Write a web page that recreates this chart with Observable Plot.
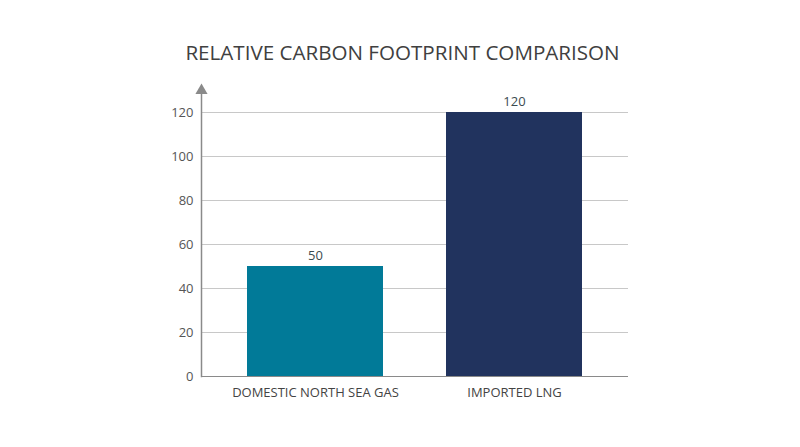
<!DOCTYPE html>
<html>
<head>
<meta charset="utf-8">
<script src="https://cdn.jsdelivr.net/npm/d3@7"></script>
<script src="https://cdn.jsdelivr.net/npm/@observablehq/plot@0.6"></script>
<style>
  html, body { margin: 0; padding: 0; background: #fff; }
  body { width: 800px; height: 447px; overflow: hidden; font-family: "Open Sans", sans-serif; }
  #title { margin: 0; padding-top: 38px; height: 28px; line-height: 28px; text-align: center;
    font-size: 20.6px; font-weight: 400; color: #404040; padding-left: 5px; }
</style>
</head>
<body>
<div id="title">RELATIVE CARBON FOOTPRINT COMPARISON</div>
<div id="chart"></div>
<script>
const categories = ["DOMESTIC NORTH SEA GAS", "IMPORTED LNG"];
const values = [50, 120];
const yTicks = [0, 20, 40, 60, 80, 100, 120];
const colors = ["#017a98", "#21335e"];

const data = categories.map((c, i) => ({category: c, value: values[i], color: colors[i]}));

const chart = Plot.plot({
  width: 800,
  height: 381,
  marginLeft: 201,
  marginRight: 172,
  marginTop: 24,
  marginBottom: 71,
  style: {fontFamily: "Open Sans, sans-serif", fontSize: "13px", color: "#555"},
  x: {domain: categories, paddingInner: 0.315, paddingOuter: 0.225, label: null},
  y: {domain: [0, 130], label: null},
  marks: [
    Plot.gridY(yTicks, {stroke: "#c8c8c8", strokeOpacity: 1, strokeWidth: 1}),
    Plot.axisY(yTicks, {tickSize: 0, tickPadding: 8, label: null, fontSize: 13, fill: "#555"}),
    Plot.axisX({tickSize: 0, tickPadding: 11, label: null, fontSize: 13, fill: "#444"}),
    Plot.barY(data, {x: "category", y: "value", fill: "color"}),
    Plot.text(data, {x: "category", y: "value", text: d => String(d.value), dy: -11, fill: "#3b4b50", fontSize: 13}),
    Plot.ruleY([0], {stroke: "#8a8a8a", strokeWidth: 1.2}),
    Plot.frame({anchor: "left", stroke: "#8a8a8a", strokeWidth: 1.5}),
    Plot.dot([130], {y: d => d, frameAnchor: "left", symbol: "triangle", r: 4.5, fill: "#8a8a8a", stroke: "none"})
  ]
});
document.getElementById("chart").appendChild(chart);
</script>
</body>
</html>
